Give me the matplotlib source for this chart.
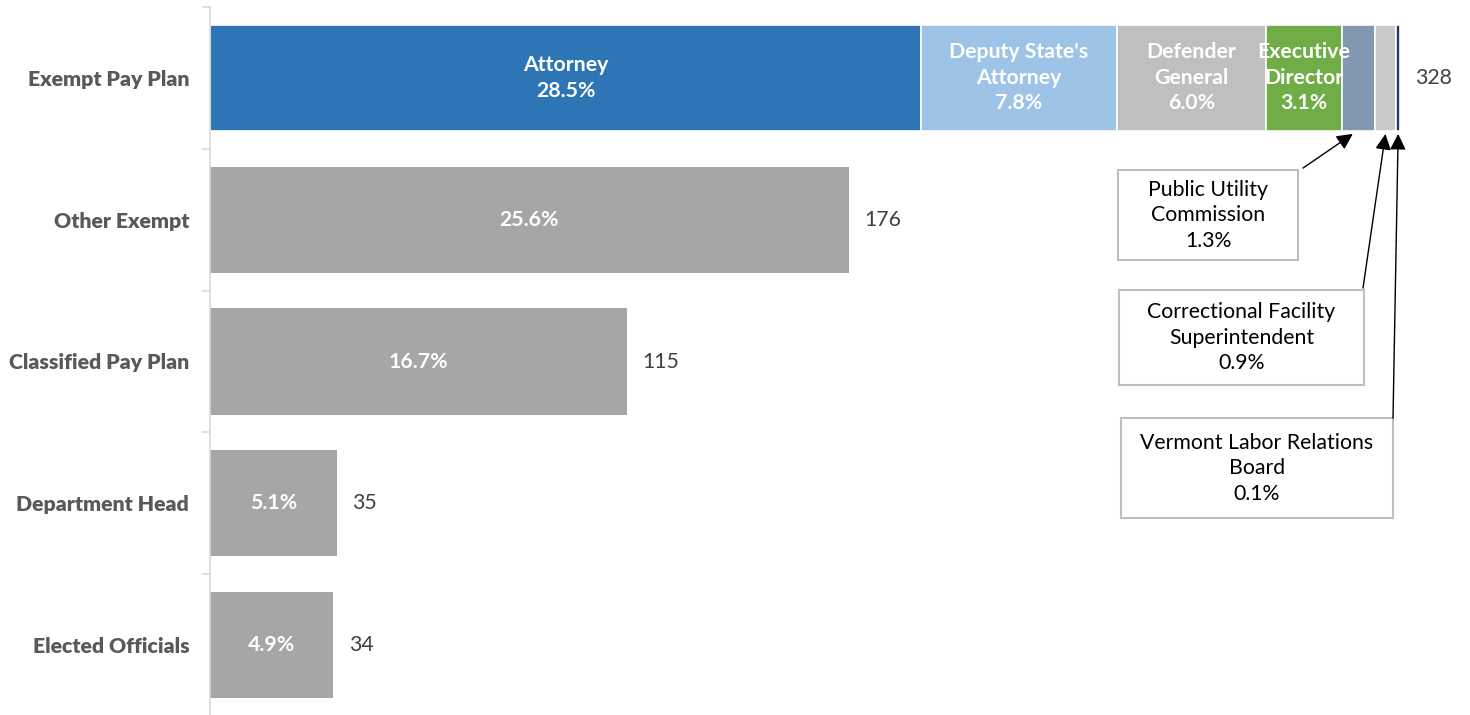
import matplotlib
matplotlib.use("Agg")
import matplotlib.pyplot as plt
from matplotlib.patches import Rectangle

plt.rcParams['font.family'] = ['Lato', 'DejaVu Sans']

# Position counts by pay plan
categories = ["Exempt Pay Plan", "Other Exempt", "Classified Pay Plan",
              "Department Head", "Elected Officials"]
other_values = [176, 115, 35, 34]

# Breakdown of the Exempt Pay Plan
exempt_parts = ["Attorney", "Deputy State's\nAttorney", "Defender\nGeneral",
                "Executive\nDirector", "Public Utility\nCommission",
                "Correctional Facility\nSuperintendent",
                "Vermont Labor Relations\nBoard"]
exempt_values = [196, 54, 41, 21, 9, 6, 1]
exempt_colors = ["#2E75B6", "#9DC3E6", "#BFBFBF", "#70AD47", "#8497B0",
                 "#C9C9C9", "#203864"]

exempt_total = sum(exempt_values)
grand_total = exempt_total + sum(other_values)

FS = 15.3
LS = 1.34


def pct(v):
    return f"{100 * v / grand_total:.1f}%"


fig = plt.figure(figsize=(14.7, 7.15), dpi=100)
ax = fig.add_axes([210 / 1470, -1 / 715, 1260 / 1470, 709 / 715])
bar_h = 0.75

# Stacked Exempt Pay Plan bar
left = 0
seg_centers = []
for name, v, c in zip(exempt_parts, exempt_values, exempt_colors):
    ax.barh(0, v, left=left, height=bar_h, color=c, edgecolor="white", linewidth=1.2)
    seg_centers.append(left + v / 2)
    if v >= 20:
        ax.text(left + v / 2, 0, f"{name}\n{pct(v)}", ha="center", va="center",
                color="white", fontsize=FS, fontweight="bold", linespacing=LS)
    left += v
ax.annotate(str(exempt_total), (exempt_total, 0), xytext=(11, 0),
            textcoords="offset points", ha="left", va="center",
            fontsize=FS, color="#404040")

# Remaining single bars
for i, v in enumerate(other_values, start=1):
    ax.barh(i, v, height=bar_h, color="#A6A6A6")
    ax.text(v / 2, i, pct(v), ha="center", va="center", color="white",
            fontsize=FS, fontweight="bold")
    ax.annotate(str(v), (v, i), xytext=(11, 0), textcoords="offset points",
                ha="left", va="center", fontsize=FS, color="#404040")

# Callout boxes for the thin segments
px = 1260 / 347.3  # pixels per unit along x


def X(p):
    return (p - 210) / px


def Y(p):
    return (p - 7) / 141.75 - 0.5


boxes = [  # (x0, y0, x1, y1) in pixels, arrow start in pixels
    ((1118, 170, 1298, 260), (1303, 168)),
    ((1119, 290, 1364, 385), (1363, 288)),
    ((1121, 418, 1393, 518), (1393, 418)),
]
for k, ((x0, y0, x1, y1), (sx, sy)) in enumerate(boxes):
    idx = 4 + k
    ax.add_patch(Rectangle((X(x0), Y(y0)), X(x1) - X(x0), Y(y1) - Y(y0),
                           facecolor="white", edgecolor="#BFBFBF", linewidth=1.5,
                           zorder=3, clip_on=False))
    ax.text((X(x0) + X(x1)) / 2, (Y(y0) + Y(y1)) / 2,
            f"{exempt_parts[idx]}\n{pct(exempt_values[idx])}",
            ha="center", va="center", fontsize=FS, color="black",
            linespacing=LS, zorder=4)
    tip_x = seg_centers[idx] - (1.5 if k == 0 else 0)
    ax.annotate("", xy=(tip_x, bar_h / 2 + 0.02), xytext=(X(sx), Y(sy)),
                arrowprops=dict(arrowstyle="-|>", color="black", lw=1,
                                mutation_scale=24, shrinkA=0, shrinkB=0),
                zorder=5)

ax.set_xlim(0, 347.3)
ax.set_ylim(4.5, -0.5)
ax.set_yticks(range(len(categories)))
ax.set_yticklabels(categories, fontsize=FS, fontweight="heavy", color="#595959")
ax.set_yticks([i - 0.5 for i in range(len(categories) + 1)], minor=True)
ax.tick_params(axis="y", which="major", length=0, pad=15)
ax.tick_params(axis="y", which="minor", length=6, color="#D9D9D9", width=1.2)
ax.set_xticks([])
for s in ["top", "right", "bottom"]:
    ax.spines[s].set_visible(False)
ax.spines["left"].set_color("#D9D9D9")
ax.spines["left"].set_linewidth(1.2)

fig.savefig("out.png", dpi=100)
